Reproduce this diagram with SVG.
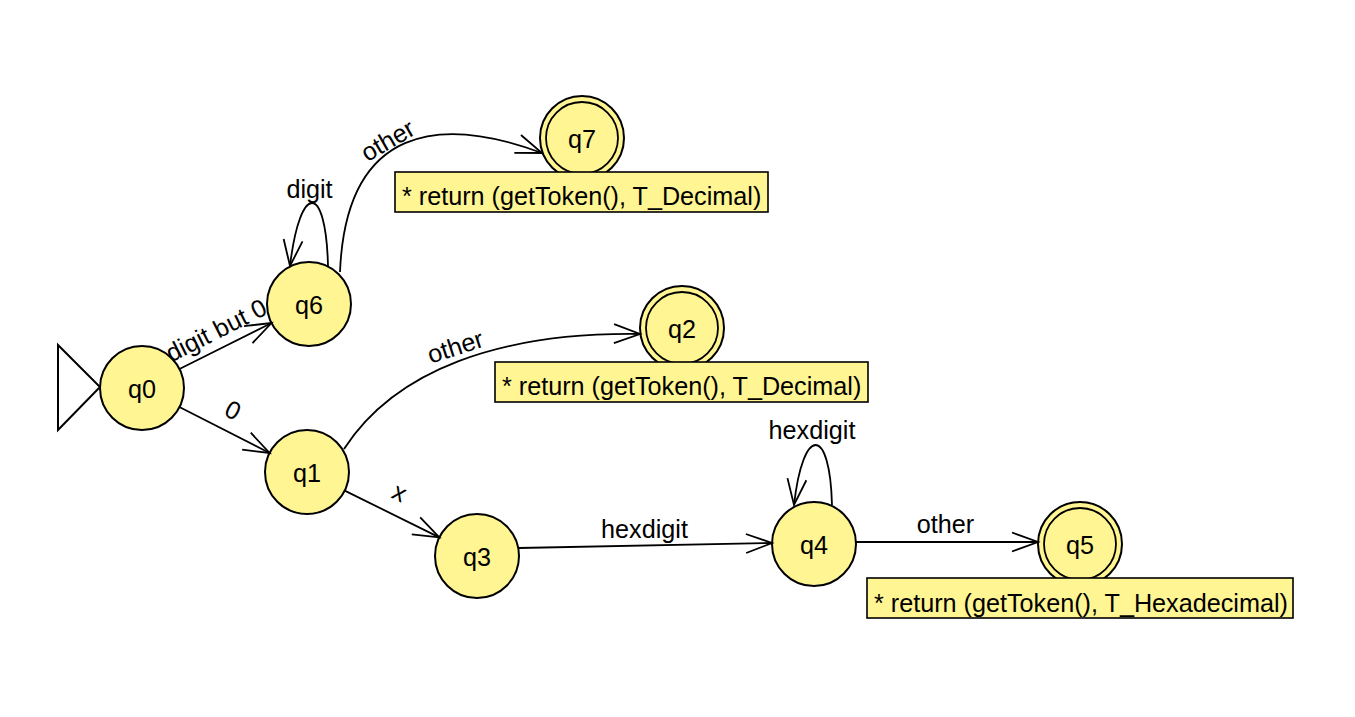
<svg xmlns="http://www.w3.org/2000/svg" width="1355" height="717" viewBox="0 0 1355 717">
<style>
  .st { fill: #FFF593; stroke: #000; stroke-width: 2; }
  .inner { fill: none; stroke: #000; stroke-width: 1.8; }
  .note { fill: #FFF593; stroke: #000; stroke-width: 1.6; }
  text { font-family: "Liberation Sans", Arial, sans-serif; font-size: 25.2px; fill: #000; }
  .c { text-anchor: middle; }
  .edge { fill: none; stroke: #000; stroke-width: 1.8; marker-end: url(#arr); }
</style>
<defs>
  <marker id="arr" markerUnits="userSpaceOnUse" viewBox="-30 -15 32 30" refX="0" refY="0" markerWidth="32" markerHeight="30" orient="auto" overflow="visible">
    <path d="M-26,-9.5 L0,0 L-26,9.5" fill="none" stroke="#000" stroke-width="1.8"/>
  </marker>
</defs>
<rect x="0" y="0" width="1355" height="717" fill="#fff"/>

<g id="initial">
  <polygon points="58,345 100,387 58,430" fill="#fff" stroke="#000" stroke-width="2"/>
</g>

<g id="q0">
  <circle class="st" cx="142" cy="388" r="42"/>
  <text class="c" x="142" y="398">q0</text>
</g>
<g id="q6">
  <circle class="st" cx="309" cy="304" r="42"/>
  <text class="c" x="309" y="314">q6</text>
</g>
<g id="q7">
  <circle class="st" cx="582" cy="138" r="42"/>
  <circle class="inner" cx="582" cy="138" r="36"/>
  <text class="c" x="582" y="148">q7</text>
  <rect class="note" x="395" y="172" width="373" height="40"/>
  <text x="402" y="205">* return (getToken(), T_Decimal)</text>
</g>
<g id="q1">
  <circle class="st" cx="307" cy="472" r="42"/>
  <text class="c" x="307" y="482">q1</text>
</g>
<g id="q2">
  <circle class="st" cx="682" cy="328" r="42"/>
  <circle class="inner" cx="682" cy="328" r="36"/>
  <text class="c" x="682" y="338">q2</text>
  <rect class="note" x="495" y="362" width="373" height="40"/>
  <text x="502" y="395">* return (getToken(), T_Decimal)</text>
</g>
<g id="q3">
  <circle class="st" cx="477" cy="556" r="42"/>
  <text class="c" x="477" y="566">q3</text>
</g>
<g id="q4">
  <circle class="st" cx="814" cy="544" r="42"/>
  <text class="c" x="814" y="554">q4</text>
</g>
<g id="q5">
  <circle class="st" cx="1080" cy="544" r="42"/>
  <circle class="inner" cx="1080" cy="544" r="36"/>
  <text class="c" x="1080" y="554">q5</text>
  <rect class="note" x="867" y="578" width="426" height="40"/>
  <text x="874" y="612">* return (getToken(), T_Hexadecimal)</text>
</g>

<g id="connectors">
  <path class="edge" d="M179.5,369 L271.5,323"/>
  <text class="c" transform="translate(220,338) rotate(-26.7)">digit but 0</text>

  <path class="edge" d="M179.4,407 L269.6,453"/>
  <text class="c" transform="translate(229,418) rotate(27)">0</text>

  <path class="edge" d="M328,266 C326,182 300,182 290,266"/>
  <text class="c" x="309.5" y="198">digit</text>

  <path class="edge" d="M340,272 C346,125 440,115 542,153"/>
  <text class="c" transform="translate(392,148) rotate(-30)">other</text>

  <path class="edge" d="M344,449 C395,370 500,332 640,334"/>
  <text class="c" transform="translate(458,355) rotate(-18)">other</text>

  <path class="edge" d="M344.7,490.6 L439.3,537.4"/>
  <text class="c" transform="translate(396,500) rotate(26)">x</text>

  <path class="edge" d="M519,548 L772,543"/>
  <text class="c" x="644.5" y="538">hexdigit</text>

  <path class="edge" d="M832,505 C830,425 803,425 794,505"/>
  <text class="c" x="812" y="439">hexdigit</text>

  <path class="edge" d="M856,542 L1038,542"/>
  <text class="c" x="945.5" y="533">other</text>
</g>
</svg>
